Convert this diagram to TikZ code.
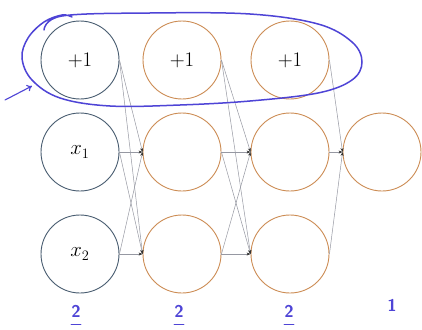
\documentclass[tikz,border=0pt]{standalone}
\usetikzlibrary{arrows.meta}
\definecolor{inblue}{RGB}{72,92,112}
\definecolor{hidor}{RGB}{204,140,84}
\definecolor{edgegray}{RGB}{150,152,162}
\definecolor{pen}{RGB}{78,68,214}
\tikzset{
  unit/.style={circle, draw, line width=0.9pt, minimum size=78pt, inner sep=0pt, font=\fontsize{22}{25}\selectfont},
  inunit/.style={unit, draw=inblue},
  hidunit/.style={unit, draw=hidor},
  conn/.style={draw=edgegray, line width=0.5pt, -{Stealth[length=4pt,width=3pt,black!80]}},
  penlbl/.style={text=pen, font=\sffamily\bfseries\fontsize{17}{17}\selectfont, inner sep=0pt},
  penline/.style={draw=pen, line width=1.2pt, line cap=round}
}
\begin{document}
\begin{tikzpicture}[x=1pt, y=-1pt]
\useasboundingbox (0,0) rectangle (422,329);
\fill[white] (0,0) rectangle (422,329);
% nodes
\node[inunit] (b1) at (80,60) {$+1$};
\node[inunit] (x1) at (80,152) {$x_1$};
\node[inunit] (x2) at (80,254) {$x_2$};
\node[hidunit] (b2) at (182,60) {$+1$};
\node[hidunit] (h11) at (182,152) {};
\node[hidunit] (h12) at (182,254) {};
\node[hidunit] (b3) at (290,60) {$+1$};
\node[hidunit] (h21) at (290,152) {};
\node[hidunit] (h22) at (290,254) {};
\node[hidunit] (o) at (382,152) {};
% connectors
\foreach \s in {b1,x1,x2}{\foreach \t in {h11,h12}{\path[conn] (\s.east) -- (\t.west);}}
\foreach \s in {b2,h11,h12}{\foreach \t in {h21,h22}{\path[conn] (\s.east) -- (\t.west);}}
\foreach \s in {b3,h21,h22}{\path[conn] (\s.east) -- (o.west);}
% handwritten annotations
\draw[penline, line width=1.5pt] plot[smooth, tension=0.6] coordinates {
  (44,30) (62,16) (150,13) (250,14) (318,24) (352,42) (362,62) (352,80) (318,93) (250,101) (180,105) (110,106) (60,98) (32,80) (22,58) (28,38) (44,22) (62,15) (72,17)};
\coordinate (ps) at (5,100);
\coordinate (pe) at (32,86);
\draw[penline, line width=1.1pt, -{To[length=5pt,width=7pt]}] (ps) -- (pe);
\node[penlbl] (l1) at (76,311) {2};
\node[penlbl] (l2) at (179,311) {2};
\node[penlbl] (l3) at (289,311) {2};
\node[penlbl] (l4) at (392,305) {1};
\draw[penline] ([yshift=-7pt]l1.south west) -- ([yshift=-7pt]l1.south east);
\draw[penline] ([yshift=-7pt]l2.south west) -- ([yshift=-7pt]l2.south east);
\draw[penline] ([yshift=-7pt]l3.south west) -- ([yshift=-7pt]l3.south east);
\end{tikzpicture}
\end{document}
